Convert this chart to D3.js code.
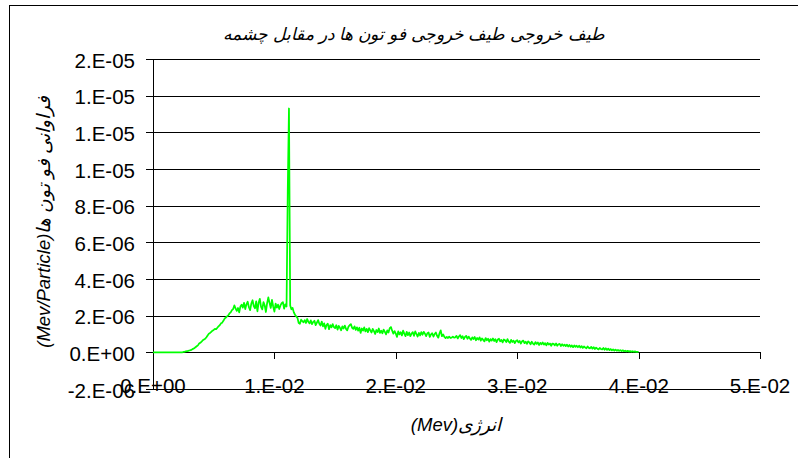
<!DOCTYPE html>
<html>
<head>
<meta charset="utf-8">
<script src="https://cdn.jsdelivr.net/npm/d3@7"></script>
<style>
  html, body { margin: 0; padding: 0; background: #fff; }
  svg { display: block; }
  .tick-label { font-family: "Liberation Sans", Arial, sans-serif; font-size: 20.5px; fill: #000; }
  .title { font-family: "Liberation Sans", "DejaVu Sans", Arial, sans-serif; font-style: italic; fill: #000; }
</style>
</head>
<body>
<svg id="chart" width="798" height="458"></svg>
<script>
// Photon flux per energy bin, in units of 1E-06 (Mev/Particle); bins 0.0001 Mev wide, 0 … 0.04 Mev
const BIN_WIDTH = 0.0001;
const fluxE6 = [
  0,0,0,0,0,0,0,0,0,0,
  0,0,0,0,0,0,0,0,0,0,
  0,0,0,0,0,0.02,0.03,0.05,0.06,0.08,
  0.10,0.12,0.15,0.19,0.22,0.28,0.33,0.38,0.48,0.52,
  0.58,0.66,0.70,0.74,0.82,0.92,1.02,1.06,1.12,1.18,
  1.22,1.28,1.26,1.34,1.42,1.48,1.58,1.62,1.72,1.84,
  1.90,1.96,2.02,2.12,2.18,2.30,2.36,2.56,2.40,2.26,
  2.42,2.18,2.50,2.60,2.44,2.70,2.36,2.62,2.76,2.46,
  2.30,2.66,2.84,2.52,2.40,2.78,2.24,2.70,2.92,2.48,
  2.34,2.74,2.56,2.20,2.68,3.00,2.70,2.42,2.86,2.50,
  2.22,2.66,2.44,2.60,2.36,2.56,2.68,2.74,2.38,2.62,
  2.50,8.80,13.30,2.55,2.35,2.42,2.18,2.05,1.96,1.88,
  1.60,1.56,1.78,1.70,1.64,1.76,1.60,1.82,1.66,1.58,
  1.74,1.54,1.66,1.72,1.48,1.62,1.76,1.56,1.46,1.68,
  1.42,1.58,1.28,1.50,1.56,1.26,1.48,1.36,1.54,1.38,
  1.32,1.48,1.24,1.44,1.34,1.20,1.42,1.30,1.46,1.28,
  1.20,1.40,1.48,1.54,1.34,1.28,1.42,1.22,1.36,1.18,
  1.34,1.06,1.30,1.18,1.36,1.14,1.28,1.10,1.32,1.20,
  1.08,1.28,1.16,1.00,1.22,1.10,1.30,1.06,1.18,1.04,
  1.24,1.12,0.98,1.20,1.08,1.32,1.38,1.18,1.02,1.16,
  1.02,0.84,1.14,0.98,1.10,0.92,1.18,1.02,0.88,1.12,
  0.94,1.08,0.88,1.02,1.10,0.90,1.14,1.00,0.86,1.06,
  0.92,1.10,0.96,1.12,1.02,0.88,1.04,1.08,0.84,0.98,
  1.04,0.86,1.00,1.08,0.90,0.80,1.04,1.20,0.88,0.98,
  0.84,0.78,0.84,0.78,0.86,0.78,0.80,0.86,0.80,0.82,
  0.90,0.76,0.86,0.94,0.78,0.88,0.72,0.84,0.90,0.74,
  0.86,0.76,0.68,0.82,0.72,0.84,0.66,0.78,0.70,0.82,
  0.64,0.76,0.68,0.60,0.78,0.66,0.74,0.58,0.72,0.64,
  0.76,0.62,0.72,0.56,0.70,0.74,0.60,0.68,0.54,0.70,
  0.66,0.56,0.72,0.58,0.52,0.68,0.56,0.64,0.50,0.62,
  0.66,0.54,0.62,0.48,0.60,0.64,0.50,0.58,0.46,0.60,
  0.54,0.44,0.58,0.48,0.42,0.56,0.46,0.54,0.40,0.52,
  0.44,0.54,0.42,0.50,0.38,0.52,0.42,0.48,0.36,0.48,
  0.46,0.38,0.48,0.36,0.44,0.46,0.34,0.44,0.36,0.42,
  0.34,0.42,0.32,0.40,0.30,0.38,0.28,0.38,0.30,0.36,
  0.28,0.36,0.26,0.34,0.24,0.32,0.26,0.22,0.32,0.24,
  0.22,0.30,0.20,0.28,0.18,0.26,0.20,0.16,0.24,0.18,
  0.16,0.24,0.14,0.22,0.13,0.20,0.12,0.18,0.11,0.16,
  0.10,0.15,0.09,0.13,0.08,0.12,0.07,0.11,0.06,0.09,
  0.05,0.08,0.04,0.07,0.03,0.06,0.03,0.05,0.02,0.03,
  0.02
];

// Axis ticks and their printed labels (Excel "0.E+00" format)
const xTicks = [0, 0.01, 0.02, 0.03, 0.04, 0.05];
const xTickLabels = ["0.E+00", "1.E-02", "2.E-02", "3.E-02", "4.E-02", "5.E-02"];
const yTicks = [-2e-6, 0, 2e-6, 4e-6, 6e-6, 8e-6, 1e-5, 1.2e-5, 1.4e-5, 1.6e-5];
const yTickLabels = ["-2.E-06", "0.E+00", "2.E-06", "4.E-06", "6.E-06", "8.E-06", "1.E-05", "1.E-05", "1.E-05", "2.E-05"];

const chartTitle = "طیف خروجی طیف  خروجی فو تون ها در مقابل چشمه";
const xTitle = "(Mev)انرژی";
const yTitle = "(Mev/Particle)فراوانی فو تون ها";

const series = fluxE6.map((v, i) => ({ e: i * BIN_WIDTH, f: v * 1e-6 }));

const svg = d3.select("#chart");

// chart frame
svg.append("rect")
  .attr("x", 9.5).attr("y", 5.5)
  .attr("width", 820).attr("height", 470)
  .attr("fill", "#fff").attr("stroke", "#000").attr("stroke-width", 1);

const x = d3.scaleLinear().domain([0, 0.05]).range([153, 760]);
const y = d3.scaleLinear().domain([-2e-6, 1.6e-5]).range([389, 59]);
const snap = v => Math.round(v) + 0.5;

// horizontal gridlines
svg.append("g").selectAll("line").data(yTicks).join("line")
  .attr("x1", x(0)).attr("x2", x(0.05))
  .attr("y1", d => snap(y(d))).attr("y2", d => snap(y(d)))
  .attr("stroke", "#000").attr("stroke-width", 1);

// value axis (left)
const yAxis = d3.axisLeft(y).tickValues(yTicks).tickSize(7).tickSizeOuter(0).tickFormat("");
const gy = svg.append("g").attr("transform", `translate(${snap(x(0)) - 0.5},0)`).call(yAxis);
gy.selectAll(".tick").attr("transform", d => `translate(0,${snap(y(d))})`);
gy.selectAll("path, line").attr("stroke", "#000");

svg.append("g").selectAll("text").data(yTicks).join("text")
  .attr("class", "tick-label")
  .attr("x", 135).attr("y", d => y(d) + 8.5)
  .attr("text-anchor", "end")
  .text((d, i) => yTickLabels[i]);

// category axis crossing at zero
const xAxis = d3.axisBottom(x).tickValues(xTicks).tickSize(7).tickSizeOuter(0).tickFormat("");
const gx = svg.append("g").attr("transform", `translate(0,${snap(y(0)) - 0.5})`).call(xAxis);
gx.selectAll(".tick").attr("transform", d => `translate(${snap(x(d))},0)`);
gx.selectAll("path, line").attr("stroke", "#000");

svg.append("g").selectAll("text").data(xTicks).join("text")
  .attr("class", "tick-label")
  .attr("x", d => x(d)).attr("y", 392.5)
  .attr("text-anchor", "middle")
  .text((d, i) => xTickLabels[i]);

// spectrum line
const line = d3.line().x(d => x(d.e)).y(d => y(d.f));
svg.append("path").datum(series)
  .attr("d", line)
  .attr("fill", "none")
  .attr("stroke", "#00ff00")
  .attr("stroke-width", 1.75)
  .attr("stroke-linejoin", "round");

// titles
svg.append("text").attr("class", "title")
  .attr("x", 414).attr("y", 40)
  .attr("text-anchor", "middle")
  .style("font-size", "17px")
  .text(chartTitle);

svg.append("text").attr("class", "title")
  .attr("x", 456).attr("y", 431)
  .attr("text-anchor", "middle")
  .style("font-size", "18.5px")
  .text(xTitle);

svg.append("text").attr("class", "title")
  .attr("transform", "translate(50,222) rotate(-90)")
  .attr("text-anchor", "middle")
  .style("font-size", "18.5px")
  .text(yTitle);
</script>
</body>
</html>
